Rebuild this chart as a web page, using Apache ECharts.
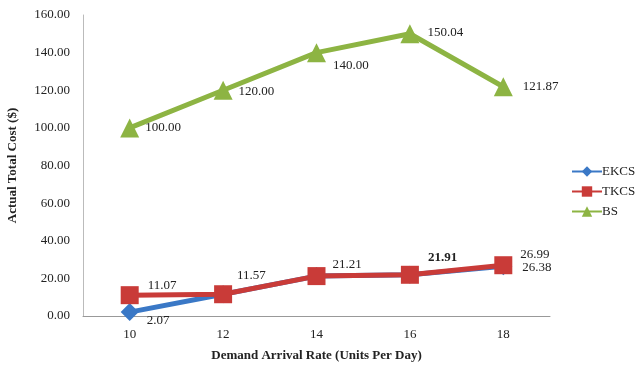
<!DOCTYPE html>
<html><head><meta charset="utf-8">
<script src="https://cdn.jsdelivr.net/npm/echarts@6/dist/echarts.min.js"></script>
<style>html,body{margin:0;padding:0;background:#fff}#c{width:638px;height:367px}</style>
</head><body><div id="c"></div>
<script>
const categories = ['10','12','14','16','18'];
const ekcs = [2.07, 11.57, 21.21, 21.91, 26.38];
const tkcs = [11.07, 11.57, 21.21, 21.91, 26.99];
const bs = [100.00, 120.00, 140.00, 150.04, 121.87];
const yTicks = [0, 20, 40, 60, 80, 100, 120, 140, 160];

const font = 'Liberation Serif, Times New Roman, serif';
const FS = 13;
const chart = echarts.init(document.getElementById('c'), null, {renderer:'canvas'});

// label placement per point (style only)
const ekcsLbl = [{show:true, offset:[3,8]}, {show:false}, {show:false}, {show:false}, {show:true, offset:[5,1]}];
const tkcsLbl = [{offset:[4,-10]}, {offset:[0,-19]}, {offset:[2,-12]}, {offset:[4,-17], fontWeight:'bold'}, {offset:[3,-11]}];
const bsLbl = [{offset:[1,0]}, {offset:[1,1]}, {offset:[2,13]}, {offset:[3,-1]}, {offset:[5,0]}];

const mk = (vals, lbls) => vals.map((v,i)=>({value:v, label:lbls[i]}));
const baseLabel = {show:true, position:'right', color:'#222', fontFamily:font, fontSize:FS, formatter:p=>p.value.toFixed(2)};

chart.setOption({
  animation:false,
  grid:{left:83, right:88, top:15, bottom:51, containLabel:false, outerBoundsMode:'none'},
  legend:{
    orient:'vertical', left:571, top:165, padding:0, itemGap:7, itemWidth:30, itemHeight:13,
    textStyle:{fontFamily:font, fontSize:FS, color:'#222', padding:[0,0,0,-5]},
    data:['EKCS','TKCS','BS']
  },
  xAxis:{
    type:'category', data:categories, boundaryGap:true,
    name:'Demand Arrival Rate (Units Per Day)', nameLocation:'middle', nameGap:33,
    nameTextStyle:{fontFamily:font, fontSize:FS, fontWeight:'bold', color:'#222'},
    axisLine:{lineStyle:{color:'#999'}}, axisTick:{show:false},
    axisLabel:{fontFamily:font, fontSize:FS, color:'#222', margin:12}
  },
  yAxis:{
    type:'value', min:0, max:160, interval:20,
    name:'Actual Total Cost ($)', nameLocation:'middle', nameGap:64, nameRotate:90,
    nameTextStyle:{fontFamily:font, fontSize:FS, fontWeight:'bold', color:'#222'},
    axisLine:{show:true, lineStyle:{color:'#bbb'}}, axisTick:{show:false}, splitLine:{show:false},
    axisLabel:{fontFamily:font, fontSize:FS, color:'#222', margin:13, formatter:v=>v.toFixed(2)}
  },
  series:[
    {name:'EKCS', type:'line', data:mk(ekcs, ekcsLbl), symbol:'diamond', symbolSize:18,
     lineStyle:{width:5, color:'#3A78C6'}, itemStyle:{color:'#3A78C6'}, label:baseLabel},
    {name:'TKCS', type:'line', data:mk(tkcs, tkcsLbl), symbol:'rect', symbolSize:18,
     lineStyle:{width:5, color:'#C93B38'}, itemStyle:{color:'#C93B38'}, label:baseLabel},
    {name:'BS', type:'line', data:mk(bs, bsLbl), symbol:'triangle', symbolSize:19,
     lineStyle:{width:5, color:'#8DB443'}, itemStyle:{color:'#8DB443'}, label:baseLabel}
  ]
});
</script></body></html>
